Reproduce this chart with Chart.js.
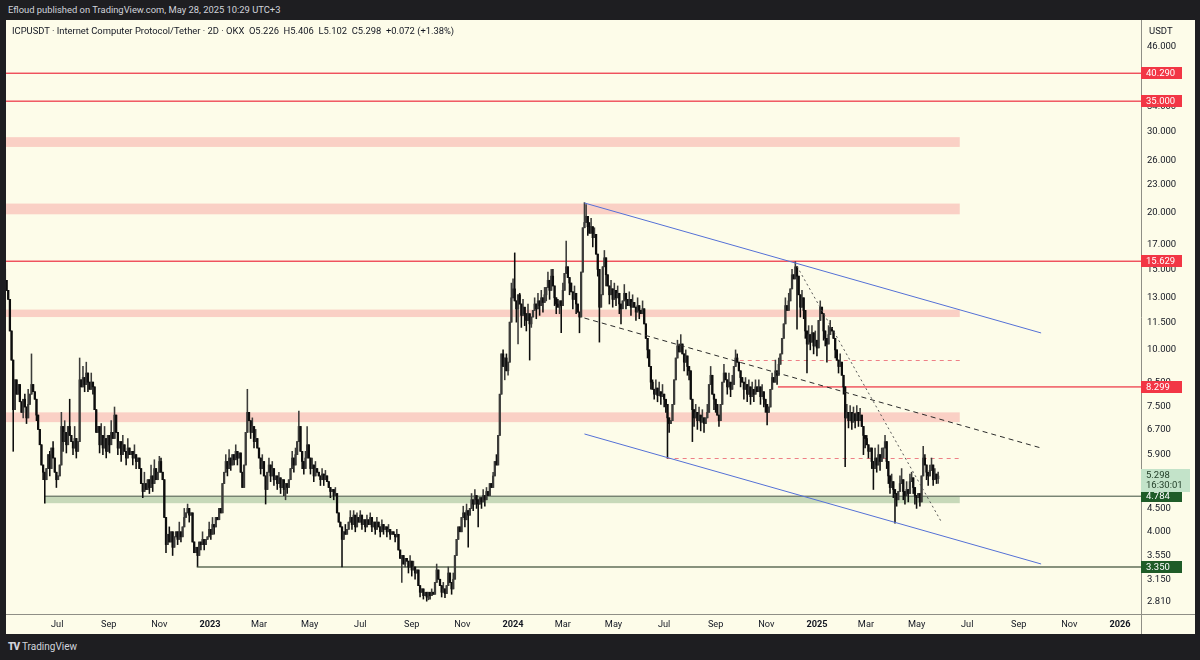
<!DOCTYPE html>
<html>
<head>
<meta charset="utf-8">
<script src="https://cdn.jsdelivr.net/npm/chart.js@4.4.1/dist/chart.umd.min.js"></script>
<style>
  html, body { margin: 0; padding: 0; width: 1200px; height: 660px; overflow: hidden; background: #1e1e21; font-family: Roboto, "Liberation Sans", sans-serif; }
  #published { position: absolute; left: 8px; top: 3px; font-size: 9.4px; line-height: 14px; color: #d1d4dc; }
  #frame { position: absolute; left: 6px; top: 20px; width: 1189px; height: 614px; background: #fdfce9; }
  #legend { position: absolute; left: 6px; top: 5px; font-size: 9.4px; line-height: 12px; color: #131722; white-space: pre; }
  #logo { position: absolute; left: 8px; top: 640px; font-size: 10px; line-height: 14px; color: #d1d4dc; }
  #logo b { font-weight: 900; letter-spacing: -1px; margin-right: 3px; }
</style>
</head>
<body>
<div id="published">Efloud published on TradingView.com, May 28, 2025 10:29 UTC+3</div>
<div id="frame">
  <canvas id="chart" width="1189" height="614"></canvas>
  <div id="legend">ICPUSDT · Internet Computer Protocol/Tether · 2D · OKX  O5.226  H5.406  L5.102  C5.298  +0.072 (+1.38%)</div>
</div>
<div id="logo"><b>TV</b>TradingView</div>

<script>
// 2D candles, first one on this date; open of each candle = previous close
const firstCandleDate = "2022-04-29";
const firstOpen = 15.0;
const closes = [
  14.2, 13.5, 12.9, 11.0, 9.5, 7.4, 8.6, 8.0, 8.4, 7.7,
  7.3, 7.8, 7.5, 7.1, 7.6, 8.0, 8.4, 8.1, 7.8, 7.2,
  6.7, 6.2, 5.6, 5.4, 5.2, 5.5, 5.9, 5.5, 6.1, 5.8,
  5.4, 5.2, 5.3, 5.6, 6.8, 6.3, 6.6, 6.2, 6.8, 6.5,
  6.3, 6.1, 6.4, 6.0, 6.3, 8.6, 8.3, 8.7, 8.4, 8.9,
  8.5, 8.2, 8.5, 8.3, 7.4, 6.6, 6.8, 6.2, 6.5, 6.1,
  6.4, 6.0, 6.5, 6.2, 6.6, 6.4, 7.2, 6.6, 6.1, 6.3,
  5.9, 6.2, 6.0, 5.8, 6.1, 5.9, 6.0, 5.8, 5.9, 5.7,
  5.8, 5.5, 5.1, 4.9, 5.1, 4.95, 5.2, 5.0, 5.3, 5.1,
  5.5, 5.2, 5.4, 5.7, 5.4, 5.2, 4.3, 3.75, 3.95, 3.8,
  4.0, 3.7, 3.9, 4.0, 3.85, 4.0, 3.9, 4.1, 4.3, 4.4,
  4.5, 4.35, 4.4, 3.8, 3.6, 3.7, 3.55, 3.8, 3.75, 3.85,
  3.75, 3.85, 3.9, 4.05, 3.95, 4.15, 4.1, 4.3, 4.25, 4.5,
  4.4, 5.1, 5.4, 5.7, 5.5, 5.8, 5.6, 5.9, 5.75, 6.0,
  5.8, 5.95, 5.4, 5.0, 5.6, 6.6, 7.3, 7.0, 6.6, 6.8,
  6.3, 6.4, 6.1, 5.8, 5.5, 5.7, 5.3, 4.95, 5.4, 5.6,
  5.3, 5.5, 5.2, 5.3, 5.1, 5.25, 5.0, 5.2, 4.95, 5.1,
  5.0, 5.2, 5.5, 5.8, 5.6, 5.9, 6.3, 6.8, 6.0, 5.7,
  5.5, 5.8, 6.2, 5.8, 5.5, 5.6, 5.3, 5.5, 5.4, 5.3,
  5.2, 5.35, 5.2, 5.3, 5.15, 5.0, 4.9, 4.95, 4.8, 4.85,
  4.4, 4.2, 4.1, 3.85, 4.0, 3.95, 4.05, 4.2, 4.3, 4.15,
  4.35, 4.1, 4.3, 4.2, 4.35, 4.15, 4.25, 4.1, 4.25, 4.15,
  4.3, 4.1, 4.2, 4.05, 4.2, 4.1, 4.0, 4.15, 4.05, 4.1,
  4.0, 4.05, 3.95, 4.0, 3.95, 3.9, 3.95, 3.65, 3.5, 3.55,
  3.4, 3.5, 3.45, 3.35, 3.45, 3.3, 3.35, 3.25, 3.3, 3.05,
  2.95, 3.0, 2.9, 2.95, 2.88, 2.95, 2.9, 2.95, 2.92, 3.1,
  3.3, 3.15, 3.05, 2.95, 3.0, 2.93, 3.05, 3.25, 3.1, 3.0,
  3.15, 3.55, 3.85, 4.1, 4.0, 4.3, 4.4, 4.25, 4.45, 4.35,
  4.5, 4.7, 4.6, 4.8, 4.7, 4.6, 4.75, 4.65, 4.8, 4.7,
  4.9, 4.8, 5.1, 5.0, 5.3, 5.7, 5.6, 6.5, 8.0, 9.8,
  9.2, 9.6, 9.0, 9.4, 11.5, 13.0, 13.6, 12.8, 12.3, 13.2,
  12.6, 11.9, 12.4, 12.0, 11.6, 12.0, 11.4, 11.8, 12.2, 12.6,
  12.3, 12.8, 12.5, 13.0, 12.7, 13.2, 13.7, 14.2, 13.5, 14.5,
  13.8, 13.0, 12.6, 12.4, 12.8, 12.5, 13.5, 14.7, 15.2, 14.4,
  14.0, 13.4, 12.9, 13.3, 12.6, 12.1, 11.8, 14.8, 18.5, 19.0,
  19.6, 18.6, 18.0, 18.6, 17.6, 17.9, 16.2, 15.0, 12.4, 13.2,
  15.2, 15.9, 14.6, 13.8, 13.2, 13.6, 12.9, 13.5, 13.0, 13.3,
  12.6, 12.3, 12.8, 13.3, 12.9, 12.5, 12.9, 12.4, 12.7, 12.4,
  12.1, 12.5, 12.2, 12.0, 12.3, 11.4, 10.6, 10.0, 9.2, 8.5,
  8.2, 8.0, 8.25, 7.95, 8.1, 7.9, 8.0, 7.8, 7.6, 7.1,
  6.9, 7.0, 7.6, 8.6, 9.6, 10.2, 9.9, 10.3, 9.8, 9.4,
  9.7, 9.2, 9.0, 7.8, 7.4, 7.1, 7.3, 7.0, 7.2, 6.95,
  7.1, 6.9, 7.1, 7.3, 8.4, 8.8, 8.0, 7.8, 7.6, 7.2,
  7.0, 7.6, 8.5, 8.9, 8.6, 8.3, 8.5, 8.2, 8.4, 9.2,
  9.6, 9.4, 9.0, 8.7, 8.5, 8.2, 8.4, 8.0, 8.3, 7.9,
  8.2, 8.0, 8.3, 8.1, 8.3, 7.9, 8.1, 7.8, 7.6, 7.3,
  7.5, 8.2, 8.7, 8.5, 9.0, 8.8, 9.3, 9.8, 10.6, 11.4,
  12.5, 12.2, 12.8, 13.6, 14.6, 14.3, 15.2, 14.5, 13.2, 12.4,
  13.0, 12.2, 11.0, 10.3, 10.8, 10.4, 10.9, 10.2, 10.5, 10.1,
  11.6, 12.4, 12.0, 11.0, 10.6, 10.3, 10.8, 11.2, 11.0, 10.6,
  10.0, 9.5, 9.2, 9.4, 8.8, 8.3, 7.1, 7.3, 7.0, 7.3,
  6.95, 7.25, 7.0, 7.3, 7.0, 7.2, 6.8, 6.5, 6.4, 6.2,
  6.0, 6.1, 5.7, 5.5, 5.8, 5.6, 5.9, 5.7, 5.8, 6.1,
  6.3, 5.7, 5.3, 5.0, 5.15, 4.95, 4.85, 4.7, 4.9, 5.1,
  5.2, 4.9, 4.8, 4.95, 4.85, 5.15, 5.25, 5.0, 4.8, 4.75,
  4.85, 4.65, 5.3, 5.8, 5.6, 5.4, 5.3, 5.45, 5.6, 5.2,
  5.35, 5.226, 5.298
];
// [candle index, wick extreme]
const spikeHighs = [
  [9, 8.3], [12, 8.0], [14, 8.2], [16, 9.8], [20, 7.2], [27, 6.0], [29, 6.3], [34, 7.3],
  [36, 7.0], [39, 7.8], [42, 6.8], [45, 9.6], [47, 9.2], [49, 9.4], [52, 8.9], [58, 6.9],
  [60, 6.8], [64, 7.0], [66, 7.5], [68, 6.6], [71, 6.5], [74, 6.4], [78, 6.2], [84, 5.4],
  [88, 5.6], [90, 5.75], [93, 5.85], [94, 5.8], [99, 4.1], [105, 4.2], [108, 4.5], [110, 4.6],
  [119, 4.0], [123, 4.2], [125, 4.3], [133, 5.9], [135, 6.05], [139, 6.2], [146, 8.2],
  [149, 7.1], [151, 6.7], [155, 5.9], [159, 5.8], [161, 5.7], [165, 5.4], [173, 6.0],
  [175, 6.1], [177, 7.35], [181, 6.0], [182, 6.8], [185, 5.8], [187, 5.7], [191, 5.5],
  [193, 5.45], [199, 5.0], [205, 4.15], [208, 4.45], [210, 4.45], [212, 4.4], [214, 4.45],
  [218, 4.35], [220, 4.4], [224, 4.3], [227, 4.25], [231, 4.15], [236, 4.05], [244, 3.55],
  [246, 3.45], [257, 3.0], [260, 3.4], [264, 3.1], [267, 3.35], [270, 3.25], [276, 4.55],
  [278, 4.6], [281, 4.85], [283, 4.95], [288, 4.95], [290, 5.0], [294, 5.4], [296, 5.9],
  [300, 10.0], [302, 9.8], [305, 14.0], [306, 14.3], [307, 16.3], [310, 13.3], [312, 12.9],
  [315, 12.6], [319, 13.0], [321, 13.3], [323, 13.5], [325, 13.7], [327, 14.8], [329, 15.0],
  [330, 15.0], [333, 12.9], [336, 14.0], [338, 17.3], [339, 15.0], [341, 14.0], [343, 13.8],
  [349, 21.0], [350, 20.8], [352, 19.0], [353, 19.4], [355, 18.5], [356, 17.2], [361, 16.5],
  [363, 14.5], [365, 14.2], [367, 14.0], [369, 13.8], [373, 13.9], [376, 13.4], [378, 13.2],
  [381, 13.0], [384, 12.8], [390, 8.6], [392, 8.6], [394, 8.5], [396, 8.4], [405, 10.5],
  [406, 10.3], [407, 10.8], [408, 10.2], [410, 10.0], [416, 7.6], [418, 7.5], [420, 7.4],
  [423, 7.6], [425, 9.2], [433, 9.3], [436, 8.9], [438, 8.8], [440, 10.0], [441, 9.8],
  [446, 8.7], [448, 8.6], [450, 8.5], [452, 8.6], [454, 8.6], [456, 8.4], [462, 8.9],
  [464, 9.5], [466, 9.6], [470, 13.0], [472, 13.3], [474, 15.0], [476, 15.6], [478, 13.8],
  [480, 13.5], [484, 11.3], [486, 11.3], [488, 11.0], [491, 12.8], [496, 11.3], [497, 11.6],
  [499, 11.0], [503, 9.8], [507, 7.6], [509, 7.55], [511, 7.5], [513, 7.55], [515, 7.45],
  [519, 6.5], [524, 6.1], [526, 6.2], [528, 6.1], [530, 6.5], [534, 5.35], [539, 5.3],
  [540, 5.5], [543, 5.15], [545, 5.35], [546, 5.4], [553, 6.15], [554, 5.9], [557, 5.6],
  [558, 5.8], [560, 5.5], [562, 5.406]
];
const spikeLows = [
  [5, 6.0], [11, 7.1], [13, 6.9], [19, 7.0], [23, 5.2], [24, 4.62], [27, 5.3], [31, 5.0],
  [35, 6.0], [37, 5.95], [41, 5.9], [43, 5.8], [48, 8.1], [50, 8.1], [53, 8.0], [57, 5.95],
  [59, 5.9], [61, 5.8], [63, 5.95], [68, 5.9], [70, 5.7], [73, 5.6], [77, 5.6], [79, 5.5],
  [83, 4.75], [87, 4.85], [89, 4.9], [97, 3.6], [98, 3.8], [100, 3.85], [101, 3.55],
  [104, 3.75], [106, 3.8], [111, 4.2], [116, 3.36], [118, 3.65], [120, 3.65], [124, 3.85],
  [126, 3.95], [134, 5.3], [136, 5.45], [138, 5.6], [140, 5.6], [148, 6.4], [150, 6.1],
  [154, 5.35], [157, 4.6], [160, 5.15], [162, 5.05], [164, 4.95], [166, 4.85], [168, 4.8],
  [169, 4.7], [170, 4.85], [174, 5.4], [179, 5.5], [180, 5.35], [184, 5.35], [186, 5.15],
  [190, 5.05], [192, 5.05], [196, 4.75], [198, 4.7], [203, 3.35], [204, 3.85], [209, 4.05],
  [211, 4.0], [215, 4.05], [217, 4.0], [221, 4.0], [223, 3.95], [226, 3.9], [228, 3.95],
  [230, 3.9], [232, 3.85], [235, 3.8], [239, 3.1], [241, 3.35], [243, 3.25], [245, 3.2],
  [247, 3.15], [250, 2.88], [252, 2.85], [254, 2.82], [255, 2.84], [256, 2.85], [263, 2.88],
  [265, 2.87], [269, 2.92], [273, 3.9], [277, 4.1], [279, 3.7], [282, 4.45], [284, 4.5],
  [285, 4.1], [287, 4.5], [289, 4.55], [301, 8.6], [303, 8.8], [308, 11.5], [309, 10.3],
  [311, 11.2], [313, 11.3], [314, 11.0], [316, 9.5], [317, 11.2], [320, 11.7], [322, 11.9],
  [324, 12.1], [326, 12.8], [328, 12.9], [331, 12.5], [332, 12.0], [334, 12.0], [335, 10.9],
  [340, 13.2], [342, 12.3], [344, 12.0], [346, 10.9], [351, 17.8], [354, 16.8], [357, 14.5],
  [358, 10.4], [362, 13.8], [364, 12.6], [366, 12.4], [368, 12.5], [370, 12.0], [371, 11.4],
  [374, 12.3], [377, 11.9], [380, 11.6], [382, 11.7], [387, 9.6], [389, 8.2], [391, 7.8],
  [393, 7.7], [395, 7.6], [397, 7.5], [398, 7.3], [399, 5.8], [400, 6.6], [409, 9.0],
  [411, 8.8], [412, 8.6], [414, 6.3], [415, 6.8], [417, 6.7], [419, 6.65], [421, 6.6],
  [427, 7.4], [428, 7.3], [430, 6.8], [435, 8.0], [437, 7.9], [443, 8.3], [445, 7.8],
  [447, 7.7], [449, 7.6], [451, 7.7], [455, 7.6], [457, 7.5], [458, 7.3], [459, 6.85],
  [465, 8.4], [477, 11.1], [479, 11.8], [481, 11.7], [482, 10.6], [483, 8.9], [485, 10.0],
  [487, 9.8], [489, 9.7], [493, 10.5], [494, 10.2], [495, 9.4], [500, 9.6], [502, 8.9],
  [505, 8.0], [506, 5.55], [508, 6.75], [510, 6.7], [512, 6.75], [514, 6.8], [517, 5.9],
  [518, 6.1], [520, 5.8], [522, 5.5], [523, 4.95], [525, 5.4], [527, 5.45], [531, 5.5],
  [532, 5.1], [533, 4.85], [535, 4.75], [536, 4.18], [537, 4.55], [541, 4.7], [542, 4.6],
  [544, 4.65], [547, 4.85], [548, 4.6], [549, 4.5], [551, 4.55], [555, 5.2], [556, 5.05],
  [559, 5.05], [561, 5.1], [562, 5.102]
];

const xTickDates = ["2022-07-01", "2022-09-01", "2022-11-01", "2023-01-01", "2023-03-01", "2023-05-01",
  "2023-07-01", "2023-09-01", "2023-11-01", "2024-01-01", "2024-03-01", "2024-05-01", "2024-07-01",
  "2024-09-01", "2024-11-01", "2025-01-01", "2025-03-01", "2025-05-01", "2025-07-01", "2025-09-01",
  "2025-11-01", "2026-01-01"];
const xTickLabels = ["Jul", "Sep", "Nov", "2023", "Mar", "May", "Jul", "Sep", "Nov", "2024", "Mar", "May",
  "Jul", "Sep", "Nov", "2025", "Mar", "May", "Jul", "Sep", "Nov", "2026"];
const yTicks = [2.81, 3.15, 3.55, 4, 4.5, 5.2, 5.9, 6.7, 7.5, 8.5, 10, 11.5, 13, 15, 17, 20, 23, 26, 30, 34, 40, 46];

// drawn levels
const zoneEndDate = "2025-06-22";
const pinkZoneLows = [27.8, 19.8, 11.8, 6.95];
const pinkZoneHighs = [29.2, 20.9, 12.25, 7.3];
const greenZone = [4.62, 4.784];
const greenZoneStart = "2022-06-16";
const levelPrices = [40.29, 35.0, 15.629, 8.299, 4.784, 3.35];
const levelStarts = [null, null, null, "2024-11-15", "2022-06-16", "2022-12-16"];
const levelColours = ["#ef4c58", "#ef4c58", "#ef4c58", "#ef4c58", "#74806f", "#55654f"];
const tagColours = ["#f23645", "#f23645", "#f23645", "#f23645", "#1f5c28", "#1f5c28"];
const dashedLevels = [9.5, 5.8];
const dashedStarts = ["2024-09-30", "2024-07-04"];

const channelTop = [["2024-03-27", 20.96], ["2025-09-28", 10.89]];
const channelBottom = [["2024-03-27", 6.547], ["2025-09-28", 3.401]];
const channelMid = [["2024-03-27", 11.74], ["2025-09-28", 6.10]];
const steepLine = [["2024-12-05", 15.57], ["2025-05-31", 4.20]];

const lastPrice = 5.298;
const countdown = "16:30:01";

// ---------------------------------------------------------------
const DAY = 86400000;
const origin = Date.UTC(2023, 0, 1);
const toDay = (s) => (Date.parse(s + "T00:00:00Z") - origin) / DAY;
const axisFont = "Roboto, 'Liberation Sans', sans-serif";

const startDay = toDay(firstCandleDate);
const highMap = new Map(spikeHighs);
const lowMap = new Map(spikeLows);

let bodies = [];
let wicks = [];
let colours = [];
for (let i = 0; i < closes.length; i++) {
  const o = i === 0 ? firstOpen : closes[i - 1];
  const c = closes[i];
  const x = startDay + 2 * i;
  const hi = Math.max(o, c, highMap.get(i) || 0);
  const lo = Math.min(o, c, lowMap.get(i) || 1e9);
  bodies.push({ x: x, y: [o, c] });
  wicks.push({ x: x, y: [lo, hi] });
  colours.push(c >= o ? "#3c3c3a" : "#0d0d0d");
}

const toPoints = (arr) => arr.map((p) => ({ x: toDay(p[0]), y: p[1] }));

const lineDs = (pts, colour, dash) => ({
  type: "line",
  data: toPoints(pts),
  borderColor: colour,
  borderWidth: 1,
  borderDash: dash,
  pointRadius: 0,
  order: 0,
});

// zones and horizontal levels under the candles, price tags on the axis
const levelsPlugin = {
  id: "levels",
  beforeDatasetsDraw(chart) {
    const { ctx, chartArea, scales } = chart;
    const x = scales.x, y = scales.y;
    ctx.save();
    ctx.beginPath();
    ctx.rect(chartArea.left, chartArea.top, chartArea.width, chartArea.height);
    ctx.clip();

    const xEnd = x.getPixelForValue(toDay(zoneEndDate));
    ctx.fillStyle = "rgba(242, 54, 69, 0.22)";
    for (let i = 0; i < pinkZoneLows.length; i++) {
      const top = y.getPixelForValue(pinkZoneHighs[i]);
      const bot = y.getPixelForValue(pinkZoneLows[i]);
      ctx.fillRect(chartArea.left, top, xEnd - chartArea.left, bot - top);
    }
    ctx.fillStyle = "rgba(76, 135, 76, 0.3)";
    const gx = x.getPixelForValue(toDay(greenZoneStart));
    const gTop = y.getPixelForValue(greenZone[1]);
    const gBot = y.getPixelForValue(greenZone[0]);
    ctx.fillRect(gx, gTop, xEnd - gx, gBot - gTop);

    // solid levels as thin filled strips
    for (let i = 0; i < levelPrices.length; i++) {
      const py = y.getPixelForValue(levelPrices[i]);
      const px = levelStarts[i] ? x.getPixelForValue(toDay(levelStarts[i])) : chartArea.left;
      ctx.fillStyle = levelColours[i];
      ctx.fillRect(px, py - 0.7, chartArea.right - px, 1.4);
    }
    ctx.setLineDash([4, 4]);
    ctx.lineWidth = 1;
    for (let i = 0; i < dashedLevels.length; i++) {
      const py = Math.round(y.getPixelForValue(dashedLevels[i])) + 0.5;
      ctx.beginPath();
      ctx.strokeStyle = "#ee7f86";
      ctx.moveTo(x.getPixelForValue(toDay(dashedStarts[i])), py);
      ctx.lineTo(xEnd, py);
      ctx.stroke();
    }
    ctx.restore();
  },
  afterDraw(chart) {
    const { ctx, chartArea, scales } = chart;
    const y = scales.y;
    ctx.save();
    // separators running through the axis corner
    ctx.strokeStyle = "#8f8f86";
    ctx.lineWidth = 1;
    ctx.beginPath();
    ctx.moveTo(chartArea.right + 0.5, chartArea.bottom);
    ctx.lineTo(chartArea.right + 0.5, chart.height);
    ctx.moveTo(chartArea.right, chartArea.bottom + 0.5);
    ctx.lineTo(chart.width, chartArea.bottom + 0.5);
    ctx.stroke();

    ctx.fillStyle = "#131722";
    ctx.font = "9.5px " + axisFont;
    ctx.textBaseline = "middle";
    ctx.fillText("USDT", chartArea.right + 8, 12);

    const tagX = chartArea.right;
    for (let i = 0; i < levelPrices.length; i++) {
      const py = Math.round(y.getPixelForValue(levelPrices[i]));
      ctx.fillStyle = tagColours[i];
      ctx.fillRect(tagX, py - 6, 41, 12);
      ctx.fillStyle = "#ffffff";
      ctx.fillText(levelPrices[i].toFixed(3), tagX + 5, py + 0.5);
    }
    const lp = Math.round(y.getPixelForValue(lastPrice));
    ctx.fillStyle = "#c3e3c9";
    ctx.fillRect(tagX, lp - 7, 49, 23);
    ctx.fillStyle = "#1e3a24";
    ctx.fillText(lastPrice.toFixed(3), tagX + 5, lp);
    ctx.fillText(countdown, tagX + 5, lp + 10);
    ctx.restore();
  },
};

new Chart(document.getElementById("chart").getContext("2d"), {
  type: "bar",
  data: {
    datasets: [
      lineDs(channelTop, "#5470d6", []),
      lineDs(channelBottom, "#5470d6", []),
      lineDs(channelMid, "#2a2a2a", [5, 4]),
      lineDs(steepLine, "#555555", [2, 3]),
      {
        data: bodies,
        backgroundColor: colours,
        barThickness: 1.6,
        minBarLength: 1,
        grouped: false,
        order: 1,
      },
      {
        data: wicks,
        backgroundColor: colours,
        barThickness: 0.9,
        grouped: false,
        order: 2,
      },
    ],
  },
  options: {
    responsive: false,
    animation: false,
    events: [],
    layout: { padding: 0 },
    plugins: { legend: { display: false }, tooltip: { enabled: false } },
    scales: {
      x: {
        type: "linear",
        min: -245.7,
        max: 1121.3,
        offset: false,
        grid: { display: false, drawTicks: false },
        border: { display: true, color: "#8f8f86" },
        afterBuildTicks: (scale) => {
          scale.ticks = xTickDates.map((d) => ({ value: toDay(d) }));
        },
        afterFit: (scale) => {
          scale.height = 20;
          scale.paddingLeft = 0;
          scale.paddingRight = 0;
        },
        ticks: {
          autoSkip: false,
          maxRotation: 0,
          padding: 5,
          color: "#131722",
          font: (c) => ({
            size: 9.2,
            family: axisFont,
            weight: /^\d{4}$/.test(xTickLabels[c.index] || "") ? "bold" : "normal",
          }),
          callback: (v, i) => xTickLabels[i],
        },
      },
      y: {
        type: "logarithmic",
        position: "right",
        min: 2.6437,
        max: 52.69,
        grid: { display: false, drawTicks: false },
        border: { display: true, color: "#8f8f86" },
        afterBuildTicks: (scale) => {
          scale.ticks = yTicks.map((v) => ({ value: v }));
        },
        afterFit: (scale) => {
          scale.width = 54;
          scale.paddingTop = 0;
          scale.paddingBottom = 0;
        },
        ticks: {
          autoSkip: false,
          padding: 6,
          color: "#131722",
          font: { size: 9.5, family: axisFont },
          callback: (v) => Number(v).toFixed(3),
        },
      },
    },
  },
  plugins: [levelsPlugin],
});
</script>
</body>
</html>
